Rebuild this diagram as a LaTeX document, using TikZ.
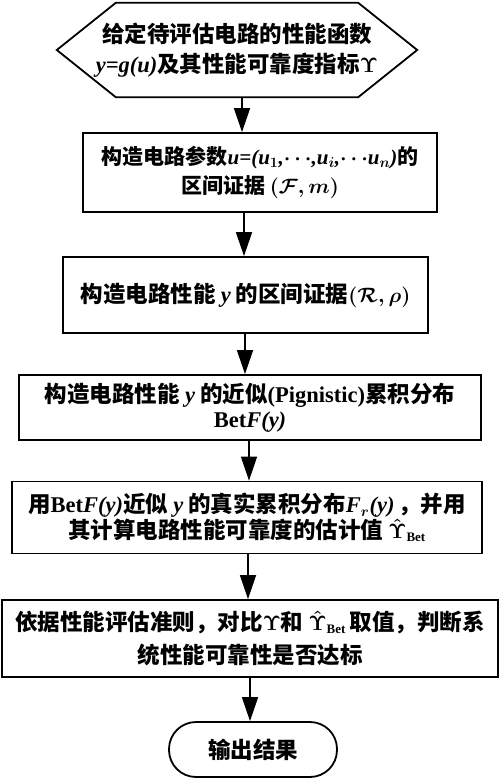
\documentclass[tikz,border=0pt]{standalone}
\usepackage{fontspec}
\setmainfont{Noto Sans CJK SC}
\newfontfamily\tmfont{Liberation Serif}
\usetikzlibrary{arrows.meta}
\newcommand\latn[1]{{\tmfont\bfseries #1}}
\newcommand\latit[1]{{\tmfont\bfseries\itshape #1}}
\newcommand\fs[2]{\fontsize{#1}{#2}\selectfont}
\newcommand\betsub{_{\mbox{\fs{13}{13}\latn{Bet}}}}
\begin{document}
\begin{tikzpicture}[x=1pt,y=-1pt,
  every node/.style={font=\bfseries\fs{22.5}{27}\boldmath, align=center, inner sep=0pt},
  boxline/.style={draw, line width=1.8pt},
  procbox/.style={boxline, rectangle},
  arr/.style={line width=1.6pt, -{Triangle[length=24pt,width=16pt]}}]
\useasboundingbox (0,0) rectangle (500,778);
% start hexagon
\node[minimum width=360pt, minimum height=94pt, font=\bfseries\fs{22.5}{30}\boldmath] (hx) at (237,50)
  {给定待评估电路的性能函数\\\latit{y=g(u)}及其性能可靠度指标$\Upsilon$};
\draw[boxline, line join=miter] (hx.west) -- ([xshift=59pt]hx.north west) -- ([xshift=-59pt]hx.north east)
  -- (hx.east) -- ([xshift=-59pt]hx.south east) -- ([xshift=59pt]hx.south west) -- cycle;
% boxes
\node[procbox, minimum width=354pt, minimum height=79pt, font=\bfseries\fs{21}{29}\boldmath] (b2) at (260,172.5)
  {构造电路参数\latit{u=(u$_1$,$\cdots$,u$_i$,$\cdots$u$_n$)}的\\区间证据 $(\mathcal{F},m)$};
\node[procbox, minimum width=365pt, minimum height=76pt] (b3) at (245.5,295)
  {构造电路性能 \latit{y} 的区间证据$(\mathcal{R},\rho)$};
\node[procbox, minimum width=462pt, minimum height=65pt, font=\bfseries\fs{22.5}{25}\boldmath] (b4) at (250,407.5)
  {构造电路性能 \latit{y} 的近似\latn{(Pignistic)}累积分布\\\latn{Bet}\latit{F(y)}};
\node[procbox, minimum width=470pt, minimum height=72pt, font=\bfseries\fs{22.5}{25.5}\boldmath] (b5) at (247,517.5)
  {用\latn{Bet}\latit{F(y)}近似 \latit{y} 的真实累积分布\latit{F$_r$(y)}\,，并用\\其计算电路性能可靠度的估计值 $\hat{\Upsilon}\betsub$};
\node[procbox, minimum width=496pt, minimum height=77pt, font=\bfseries\fs{22.5}{33}\boldmath] (b6) at (250,638.5)
  {依据性能评估准则，对比$\Upsilon$和 $\hat{\Upsilon}\betsub$\,取值，判断系\\统性能可靠性是否达标};
\node[boxline, rounded corners=27pt, minimum width=168pt, minimum height=55pt] (end) at (253,749.5)
  {输出结果};
% connectors
\coordinate (c1) at (242,0);
\coordinate (c2) at (244,0);
\coordinate (c3) at (245,0);
\coordinate (c4) at (249,0);
\coordinate (c5) at (248,0);
\coordinate (c6) at (250,0);
\draw[arr] (hx.south -| c1) -- (b2.north -| c1);
\draw[arr] (b2.south -| c2) -- (b3.north -| c2);
\draw[arr] (b3.south -| c3) -- (b4.north -| c3);
\draw[arr] (b4.south -| c4) -- (b5.north -| c4);
\draw[arr] (b5.south -| c5) -- (b6.north -| c5);
\draw[arr] (b6.south -| c6) -- (end.north -| c6);
\end{tikzpicture}
\end{document}
